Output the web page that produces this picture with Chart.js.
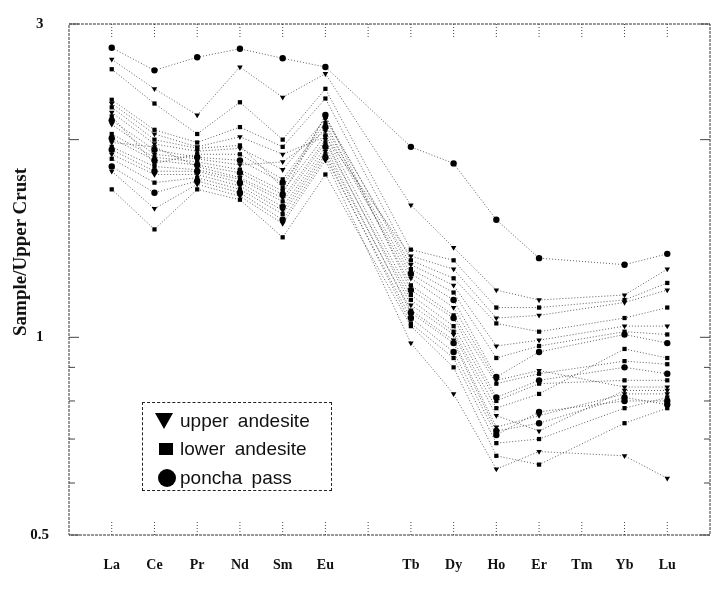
<!DOCTYPE html>
<html>
<head>
<meta charset="utf-8">
<script src="https://cdn.jsdelivr.net/npm/chart.js@4.4.1/dist/chart.umd.min.js"></script>
<style>
  body { margin: 0; background: #fff; }
  #wrap { position: relative; width: 723px; height: 591px; }
  #yTitle {
    position: absolute; left: 20px; top: 252px;
    transform: translate(-50%, -50%) rotate(-90deg);
    font: bold 19px "Liberation Serif", "Times New Roman", serif;
    white-space: nowrap; color: #111;
  }
  #legendBox {
    position: absolute; left: 142px; top: 402px; width: 190px; height: 89px;
    border: 1px dashed #222; box-sizing: border-box;
    font: 19px "Liberation Sans", Arial, sans-serif; color: #111;
  }
  .row { position: absolute; left: 0; height: 22px; line-height: 22px; width: 100%; }
  .row span.txt { position: absolute; left: 37px; word-spacing: 4px; }
  .tri { position: absolute; left: 12px; top: 3px; width: 0; height: 0;
         border-left: 9px solid transparent; border-right: 9px solid transparent; border-top: 16px solid #000; }
  .sq { position: absolute; left: 16px; top: 5px; width: 14px; height: 12px; background: #000; }
  .circ { position: absolute; left: 15px; top: 2px; width: 18px; height: 18px; border-radius: 50%; background: #000; }
</style>
</head>
<body>
<div id="wrap">
  <canvas id="myChart" width="723" height="591"></canvas>
  <div id="yTitle">Sample/Upper Crust</div>
  <div id="legendBox">
    <div class="row" style="top:7px"><div class="tri"></div><span class="txt">upper andesite</span></div>
    <div class="row" style="top:35px"><div class="sq"></div><span class="txt">lower andesite</span></div>
    <div class="row" style="top:64px"><div class="circ"></div><span class="txt">poncha pass</span></div>
  </div>
</div>
<script>
// axis slots, Gd and Tm left without data
const axisLabels = ['', 'La', 'Ce', 'Pr', 'Nd', 'Sm', 'Eu', '', 'Tb', 'Dy', 'Ho', 'Er', 'Tm', 'Yb', 'Lu', ''];
const elements = ['La', 'Ce', 'Pr', 'Nd', 'Sm', 'Eu', 'Tb', 'Dy', 'Ho', 'Er', 'Yb', 'Lu'];
const yTicks = [0.5, 0.6, 0.7, 0.8, 0.9, 1, 2, 3];
const yLabeled = [0.5, 1, 3];

// upper andesite
const upper1 = [2.65, 2.39, 2.18, 2.58, 2.32, 2.52, 1.59, 1.37, 1.18, 1.14, 1.16, 1.27];
const upper2 = [2.27, 2.04, 1.95, 2.02, 1.90, 2.02, 1.33, 1.27, 1.07, 1.08, 1.13, 1.18];
const upper3 = [2.20, 1.97, 1.92, 1.94, 1.80, 2.15, 1.29, 1.20, 0.97, 0.99, 1.04, 1.04];
const upper4 = [2.11, 1.90, 1.87, 1.83, 1.85, 2.06, 1.23, 1.11, 0.86, 0.89, 0.84, 0.84];
const upper5 = [1.98, 1.95, 1.82, 1.75, 1.63, 2.00, 1.12, 1.01, 0.76, 0.72, 0.83, 0.83];
const upper6 = [1.90, 1.77, 1.77, 1.70, 1.56, 1.92, 1.10, 0.99, 0.73, 0.76, 0.82, 0.82];
const upper7 = [1.79, 1.57, 1.71, 1.64, 1.49, 1.86, 0.98, 0.82, 0.63, 0.67, 0.66, 0.61];

// lower andesite
const lower1 = [2.56, 2.27, 2.04, 2.28, 2.00, 2.39, 1.36, 1.31, 1.11, 1.11, 1.14, 1.21];
const lower2 = [2.30, 2.07, 1.98, 2.09, 1.95, 2.31, 1.31, 1.23, 1.05, 1.02, 1.07, 1.11];
const lower3 = [2.24, 2.00, 1.94, 1.96, 1.69, 2.17, 1.27, 1.17, 0.93, 0.97, 1.02, 1.01];
const lower4 = [2.17, 1.84, 1.90, 1.90, 1.74, 2.12, 1.20, 1.08, 0.85, 0.88, 0.92, 0.91];
const lower5 = [2.04, 1.88, 1.85, 1.80, 1.67, 2.03, 1.16, 1.04, 0.80, 0.85, 0.86, 0.86];
const lower6 = [1.95, 1.82, 1.80, 1.74, 1.61, 1.98, 1.14, 1.02, 0.78, 0.82, 0.96, 0.93];
const lower7 = [1.87, 1.72, 1.75, 1.68, 1.54, 1.90, 1.05, 0.93, 0.69, 0.70, 0.78, 0.81];
const lower8 = [1.68, 1.46, 1.68, 1.62, 1.42, 1.77, 1.04, 0.90, 0.66, 0.64, 0.74, 0.78];

// poncha pass
const poncha1 = [2.76, 2.55, 2.67, 2.75, 2.66, 2.58, 1.95, 1.84, 1.51, 1.32, 1.29, 1.34];
const poncha2 = [2.14, 1.93, 1.88, 1.86, 1.72, 2.09, 1.25, 1.14, 0.87, 0.95, 1.01, 0.98];
const poncha3 = [2.01, 1.86, 1.83, 1.78, 1.65, 2.18, 1.18, 1.07, 0.81, 0.86, 0.90, 0.88];
const poncha4 = [1.93, 1.79, 1.79, 1.72, 1.58, 1.95, 1.09, 0.98, 0.72, 0.74, 0.81, 0.79];
const poncha5 = [1.82, 1.66, 1.73, 1.66, 1.51, 1.88, 1.07, 0.95, 0.71, 0.77, 0.80, 0.80];

const groups = [
  { style: 'triangle', rows: [upper1, upper2, upper3, upper4, upper5, upper6, upper7] },
  { style: 'rect', rows: [lower1, lower2, lower3, lower4, lower5, lower6, lower7, lower8] },
  { style: 'circle', rows: [poncha1, poncha2, poncha3, poncha4, poncha5] }
];

const datasets = [];
groups.forEach((g) => {
  g.rows.forEach((row) => {
    datasets.push({
      data: row.map((v, i) => ({ x: elements[i], y: v })),
      borderColor: 'rgba(55,55,55,0.8)',
      borderWidth: 1,
      borderDash: [1, 2],
      pointStyle: g.style,
      pointRotation: g.style === 'triangle' ? 180 : 0,
      pointRadius: g.style === 'rect' ? 3 : 3.2,
      pointBackgroundColor: '#000',
      pointBorderColor: '#000',
      pointBorderWidth: 0,
      tension: 0
    });
  });
});

// frame + inward tick marks
const frameTicks = {
  id: 'frameTicks',
  afterDraw(chart) {
    const { ctx, chartArea: a, scales: { x, y } } = chart;
    ctx.save();
    ctx.strokeStyle = '#333';
    ctx.lineWidth = 1;
    ctx.setLineDash([3, 1]);
    ctx.strokeRect(a.left, a.top, a.width, a.height);
    ctx.setLineDash([1, 2]);
    ctx.strokeStyle = '#444';
    for (let i = 1; i < axisLabels.length - 1; i++) {
      const px = x.getPixelForValue(i);
      ctx.beginPath();
      ctx.moveTo(px, a.top); ctx.lineTo(px, a.top + 14);
      ctx.moveTo(px, a.bottom); ctx.lineTo(px, a.bottom - 14);
      ctx.stroke();
    }
    ctx.setLineDash([]);
    yTicks.forEach((v) => {
      const py = y.getPixelForValue(v);
      const len = yLabeled.includes(v) || v === 2 ? 10 : 6;
      ctx.beginPath();
      ctx.moveTo(a.left, py); ctx.lineTo(a.left + len, py);
      ctx.moveTo(a.right, py); ctx.lineTo(a.right - len, py);
      ctx.stroke();
    });
    ctx.restore();
  }
};

const myChart = new Chart(document.getElementById('myChart').getContext('2d'), {
  type: 'line',
  data: { labels: axisLabels, datasets: datasets },
  options: {
    responsive: false,
    animation: false,
    layout: { padding: { top: 24, right: 13, left: 0, bottom: 0 } },
    plugins: { legend: { display: false }, tooltip: { enabled: false } },
    scales: {
      x: {
        type: 'category',
        offset: false,
        grid: { display: false, drawTicks: false },
        border: { display: false },
        ticks: {
          autoSkip: false, maxRotation: 0, padding: 22, color: '#111',
          font: { family: '"Liberation Serif", "Times New Roman", serif', size: 14, weight: 'bold' }
        },
        afterFit(s) { s.height = 56; s.paddingLeft = 0; s.paddingRight = 0; }
      },
      y: {
        type: 'logarithmic',
        min: 0.5,
        max: 3,
        grid: { display: false, drawTicks: false },
        border: { display: false },
        afterBuildTicks(s) { s.ticks = yTicks.map((v) => ({ value: v })); },
        ticks: {
          padding: 20, crossAlign: 'center', color: '#111',
          font: { family: '"Liberation Serif", "Times New Roman", serif', size: 15, weight: 'bold' },
          callback: (v) => (yLabeled.includes(v) ? String(v) : '')
        },
        afterFit(s) { s.width = 69; s.paddingTop = 0; s.paddingBottom = 0; }
      }
    }
  },
  plugins: [frameTicks]
});
</script>
</body>
</html>
